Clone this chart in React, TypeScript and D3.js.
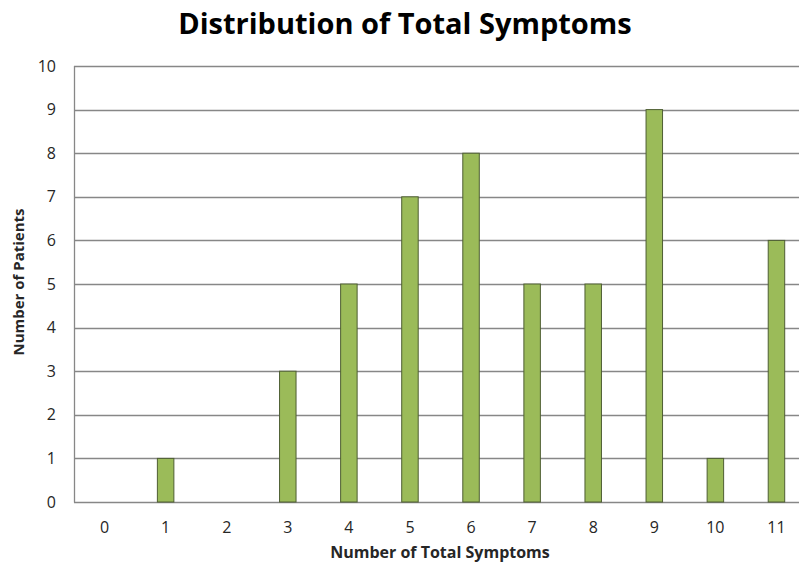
import React, { useEffect, useRef } from "react";
import * as d3 from "d3";

const categories: string[] = ["0", "1", "2", "3", "4", "5", "6", "7", "8", "9", "10", "11"];
const patients: number[] = [0, 1, 0, 3, 5, 7, 8, 5, 5, 9, 1, 6];
const yTicks: number[] = [0, 1, 2, 3, 4, 5, 6, 7, 8, 9, 10];

const App: React.FC = () => {
	const svgRef = useRef<SVGSVGElement>(null);

	useEffect(() => {
		if (!svgRef.current) return;
		const svg = d3.select(svgRef.current);
		svg.selectAll("*").remove();

		const width = 799;
		const height = 568;
		const plot = { left: 74, right: 807, top: 66, bottom: 502 };
		const font = "Open Sans, Noto Sans, sans-serif";

		const x = d3
			.scaleBand<string>()
			.domain(categories)
			.range([plot.left, plot.right])
			.paddingInner(0.73)
			.paddingOuter(0.365);

		const y = d3.scaleLinear().domain([0, 10]).range([plot.bottom, plot.top]);

		svg.append("rect").attr("width", width).attr("height", height).attr("fill", "#fff");

		// gridlines
		svg
			.append("g")
			.selectAll("line")
			.data(yTicks)
			.join("line")
			.attr("x1", plot.left)
			.attr("x2", plot.right)
			.attr("y1", (d) => Math.round(y(d)) + 0.5)
			.attr("y2", (d) => Math.round(y(d)) + 0.5)
			.attr("stroke", "#878787")
			.attr("stroke-width", 1.3);

		// left axis line
		svg
			.append("line")
			.attr("x1", plot.left + 0.5)
			.attr("x2", plot.left + 0.5)
			.attr("y1", plot.top)
			.attr("y2", plot.bottom + 0.5)
			.attr("stroke", "#878787")
			.attr("stroke-width", 1.3);

		// bars
		svg
			.append("g")
			.selectAll("rect")
			.data(patients)
			.join("rect")
			.attr("x", (d, i) => x(categories[i]) as number)
			.attr("y", (d) => y(d))
			.attr("width", x.bandwidth())
			.attr("height", (d) => y(0) - y(d))
			.attr("fill", "#9BBB59")
			.attr("stroke", "#4E5E33")
			.attr("stroke-width", (d) => (d > 0 ? 1 : 0));

		// y tick labels
		svg
			.append("g")
			.selectAll("text")
			.data(yTicks)
			.join("text")
			.attr("x", 56)
			.attr("y", (d) => y(d))
			.attr("dy", "0.35em")
			.attr("text-anchor", "end")
			.attr("font-family", font)
			.attr("font-size", 16)
			.attr("fill", "#262626")
			.text((d) => d);

		// x tick labels
		svg
			.append("g")
			.selectAll("text")
			.data(categories)
			.join("text")
			.attr("x", (d) => (x(d) as number) + x.bandwidth() / 2)
			.attr("y", 533)
			.attr("text-anchor", "middle")
			.attr("font-family", font)
			.attr("font-size", 16)
			.attr("fill", "#262626")
			.text((d) => d);

		// title
		svg
			.append("text")
			.attr("x", 405)
			.attr("y", 34)
			.attr("text-anchor", "middle")
			.attr("font-family", font)
			.attr("font-weight", "bold")
			.attr("font-size", 29)
			.attr("fill", "#000")
			.text("Distribution of Total Symptoms");

		// x axis title
		svg
			.append("text")
			.attr("x", 440)
			.attr("y", 558)
			.attr("text-anchor", "middle")
			.attr("font-family", font)
			.attr("font-weight", "bold")
			.attr("font-size", 16)
			.attr("fill", "#262626")
			.text("Number of Total Symptoms");

		// y axis title
		svg
			.append("text")
			.attr("transform", `translate(24,282) rotate(-90)`)
			.attr("text-anchor", "middle")
			.attr("font-family", font)
			.attr("font-weight", "bold")
			.attr("font-size", 15)
			.attr("fill", "#262626")
			.text("Number of Patients");
	}, []);

	return (
		<svg
			ref={svgRef}
			width={799}
			height={568}
			style={{ position: "absolute", left: 0, top: 0 }}
		/>
	);
};

export default App;
